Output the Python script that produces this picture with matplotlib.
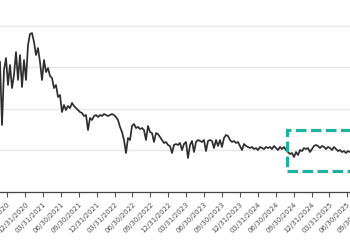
import pandas as pd
import matplotlib
matplotlib.use("Agg")
from matplotlib import pyplot as plt
from matplotlib.patches import Rectangle
import matplotlib.dates as mdates

START = "2020-08-24"
END = "2025-07-14"
prices = [
    156.3, 80.4, 146.6, 161.1, 128.6, 152.7, 124.9, 140.6, 168.3, 134.6,
    164.7, 126.1, 158.7, 134.6, 176.7, 190.0, 191.2, 180.4, 164.7, 173.1,
    156.3, 134.6, 158.7, 144.2, 149.0, 139.4, 137.0, 124.9, 128.6, 114.1,
    116.5, 96.0, 104.5, 98.4, 103.3, 100.8, 106.9, 103.3, 100.8, 98.4,
    96.0, 94.8, 91.2, 92.4, 74.3, 88.8, 86.4, 91.2, 92.4, 90.0,
    92.4, 91.2, 93.6, 92.4, 91.2, 92.4, 93.6, 92.4, 90.0, 86.4,
    78.0, 71.9, 62.3, 46.6, 64.7, 62.3, 79.2, 81.6, 76.7, 78.0,
    75.5, 76.7, 74.3, 62.3, 79.2, 71.9, 70.7, 59.9, 70.7, 69.5,
    65.9, 62.3, 58.7, 59.9, 56.3, 55.1, 46.6, 56.3, 57.5, 56.3,
    58.7, 50.2, 57.5, 59.9, 40.6, 56.3, 61.1, 47.8, 59.9, 62.3,
    61.1, 59.9, 62.3, 49.0, 61.1, 62.3, 61.1, 52.6, 62.3, 55.1,
    62.3, 53.9, 64.7, 68.3, 67.1, 62.3, 59.9, 61.1, 58.7, 59.9,
    55.1, 50.2, 57.5, 55.1, 53.9, 52.6, 53.9, 51.4, 52.6, 50.2,
    53.9, 52.6, 51.4, 53.9, 52.6, 53.9, 51.4, 55.1, 52.6, 50.2,
    53.9, 51.4, 53.9, 50.2, 47.8, 45.4, 46.6, 41.8, 47.8, 44.2,
    50.2, 49.0, 52.6, 51.4, 52.6, 47.8, 51.4, 55.1, 56.3, 55.1,
    52.6, 55.1, 53.9, 51.4, 53.9, 52.6, 50.2, 53.9, 51.4, 49.0,
    50.2, 47.8, 49.0, 46.6, 49.0, 47.8,
]
dates = pd.date_range(START, END, periods=len(prices))

tick_dates = pd.date_range("2020-09-30", "2025-09-30", freq="QE")
grid_levels = [50, 100, 150, 200]

# highlighted window
HL_START = pd.Timestamp("2024-08-28")
HL_END = pd.Timestamp("2025-12-31")
HL_LOW, HL_HIGH = 25.3, 74.3

# the picture is a crop: the axes run on past the right edge of the figure
AX_END = pd.Timestamp("2025-10-25")
ax_width = (AX_END - pd.Timestamp(START)) / (pd.Timestamp(END) - pd.Timestamp(START))

fig = plt.figure(figsize=(3.5, 2.5), dpi=100)
ax = fig.add_axes([0, 0.2332, ax_width, 0.7668])

ax.plot(dates, prices, color="#2e2e2e", linewidth=1.25)

for g in grid_levels:
    ax.axhline(g, color="#e8e8e8", linewidth=1.0, zorder=0)

x0 = mdates.date2num(HL_START)
x1 = mdates.date2num(HL_END)
ax.add_patch(Rectangle((x0, HL_LOW), x1 - x0, HL_HIGH - HL_LOW, fill=False,
                       edgecolor="#20b19c", linewidth=2.3,
                       linestyle=(0, (3.3, 1.4)), zorder=3))

ax.set_xticks(tick_dates)
ax.set_xticklabels([d.strftime("%m/%d/%Y") for d in tick_dates],
                   rotation=45, ha="right", rotation_mode="anchor",
                   fontsize=5.0, color="#4d4d4d")
ax.tick_params(axis="x", length=3.6, width=0.8, color="#555555", pad=3)
ax.set_yticks([])

ax.set_xlim(pd.Timestamp(START), AX_END)
ax.set_ylim(0, 231)

for side in ["top", "right", "left"]:
    ax.spines[side].set_visible(False)
ax.spines["bottom"].set_color("#444444")
ax.spines["bottom"].set_linewidth(0.9)

fig.savefig("out.png", dpi=100)
